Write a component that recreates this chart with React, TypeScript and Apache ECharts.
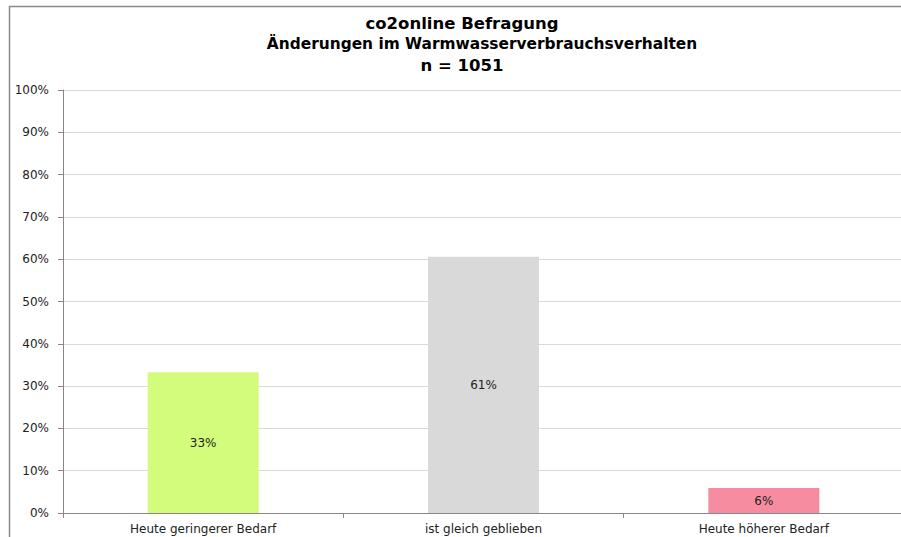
import React, { useEffect, useRef } from "react";
import * as echarts from "echarts";

const titleLines = ["co2online Befragung", "Änderungen im Warmwasserverbrauchsverhalten", "n = 1051"];
const categories = ["Heute geringerer Bedarf", "ist gleich geblieben", "Heute höherer Bedarf"];
const values = [33.3, 60.6, 5.9];
const barColors = ["#d4fc7c", "#d9d9d9", "#f68ca0"];
const yTicks = [0, 10, 20, 30, 40, 50, 60, 70, 80, 90, 100];

export default function App() {
  const ref = useRef<HTMLDivElement>(null);
  useEffect(() => {
    if (!ref.current) return;
    const chart = echarts.init(ref.current, null, { renderer: "svg" });
    const font = "DejaVu Sans, Verdana, sans-serif";
    const titleCenters = [462, 482, 462];
    const titleTops = [15, 36, 57];
    const titleSizes = [16.5, 15.4, 16.5];
    chart.setOption({
      animation: false,
      backgroundColor: "#ffffff",
      title: titleLines.map((t, i) => ({
        text: t,
        left: titleCenters[i],
        textAlign: "center",
        top: titleTops[i],
        padding: 0,
        textStyle: { fontFamily: font, fontSize: titleSizes[i], fontWeight: "bold", color: "#000" },
      })),
      graphic: [
        {
          type: "rect",
          shape: { x: 9.5, y: 6.5, width: 1000, height: 1000 },
          style: { fill: "none", stroke: "#8a8a8a", lineWidth: 1.5 },
          silent: true,
          z: 100,
        },
      ],
      grid: { left: 63, right: 16, top: 90, bottom: 24, containLabel: false },
      xAxis: {
        type: "category",
        data: categories,
        axisLine: { lineStyle: { color: "#888888" } },
        axisTick: { show: true, length: 5, alignWithLabel: false, lineStyle: { color: "#888888" } },
        axisLabel: { fontFamily: font, fontSize: 12, color: "#222", margin: 10 },
      },
      yAxis: {
        type: "value",
        min: yTicks[0],
        max: yTicks[yTicks.length - 1],
        interval: 10,
        axisLine: { show: true, lineStyle: { color: "#888888" } },
        axisTick: { show: true, length: 5, inside: false, lineStyle: { color: "#888888" } },
        axisLabel: { fontFamily: font, fontSize: 12, color: "#222", margin: 14, formatter: "{value}%" },
        splitLine: { lineStyle: { color: "#d9d9d9", width: 1 } },
      },
      series: [
        {
          type: "bar",
          data: values.map((v, i) => ({ value: v, itemStyle: { color: barColors[i] } })),
          barWidth: 111,
          label: {
            show: true,
            position: "inside",
            fontFamily: font,
            fontSize: 12,
            color: "#222",
            formatter: (p: any) => Math.round(p.value) + "%",
          },
        },
      ],
    });
    return () => chart.dispose();
  }, []);
  return (
    <div style={{ position: "absolute", left: 0, top: 0, width: 901, height: 537, overflow: "hidden" }}>
      <div ref={ref} style={{ width: 920, height: 537 }} />
    </div>
  );
}
